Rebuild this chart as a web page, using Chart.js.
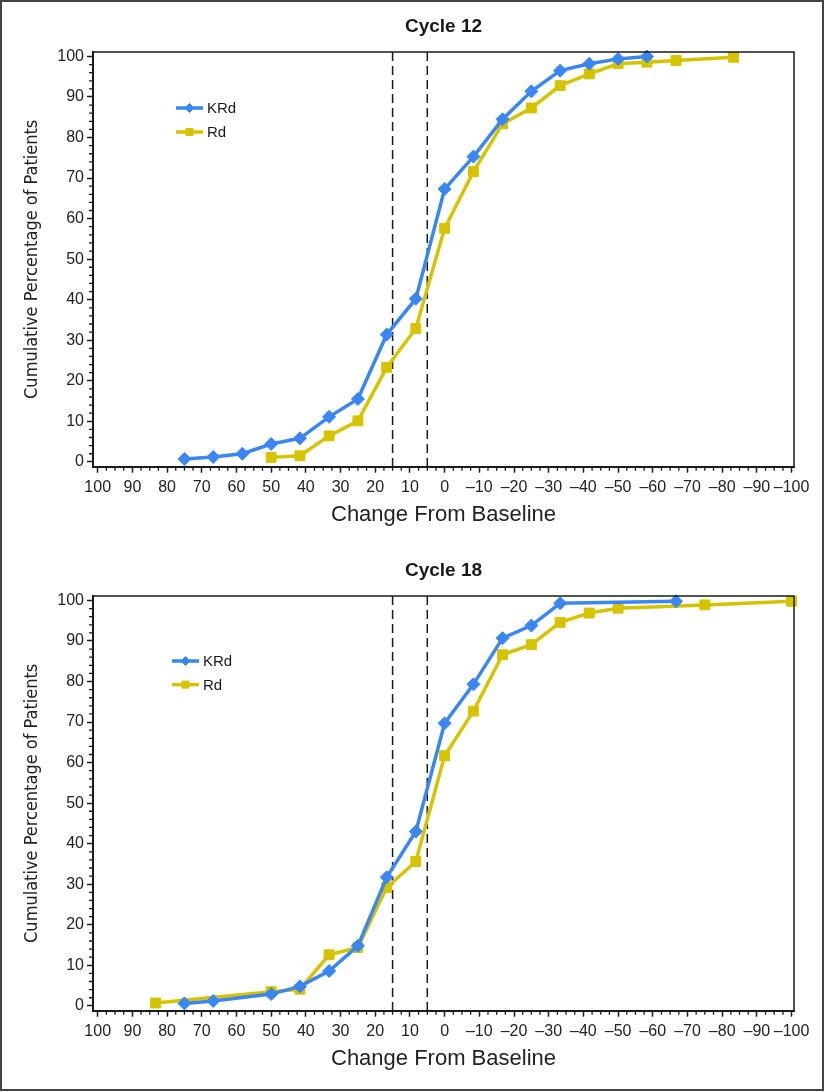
<!DOCTYPE html>
<html>
<head>
<meta charset="utf-8">
<script src="https://cdn.jsdelivr.net/npm/chart.js@4.4.1/dist/chart.umd.min.js"></script>
<style>
  html, body { margin: 0; padding: 0; background: #fff; }
  #figure { position: relative; width: 827px; height: 1092px; overflow: hidden; }
  #figure canvas { position: absolute; left: 0; }
  #frame { position: absolute; left: 0; top: 0; width: 824px; height: 1091px; box-sizing: border-box; border: 2px solid #444; pointer-events: none; }
</style>
</head>
<body>
<div id="figure">
  <canvas id="chart12" width="827" height="546" style="top:0"></canvas>
  <canvas id="chart18" width="827" height="546" style="top:544px"></canvas>
  <div id="frame"></div>
</div>
<script>
// ------------------------------------------------------------
// data
// ------------------------------------------------------------
const seriesNames = ['KRd', 'Rd'];
const refLines = [15, 5];

const cycle12KrdX = [75, 66.7, 58.3, 50, 41.7, 33.3, 25, 16.7, 8.3, 0, -8.3, -16.7, -25, -33.3, -41.7, -50, -58.3];
const cycle12KrdY = [0.7, 1.2, 2.0, 4.4, 5.8, 11.1, 15.5, 31.4, 40.2, 67.3, 75.3, 84.5, 91.4, 96.5, 98.2, 99.4, 100];
const cycle12RdX = [50, 41.7, 33.3, 25, 16.7, 8.3, 0, -8.3, -16.7, -25, -33.3, -41.7, -50, -58.3, -66.7, -83.3];
const cycle12RdY = [1.1, 1.5, 6.4, 10.1, 23.3, 32.9, 57.6, 71.6, 83.4, 87.3, 92.8, 95.7, 98.2, 98.6, 99.0, 99.8];

const cycle18KrdX = [75, 66.7, 50, 41.7, 33.3, 25, 16.7, 8.3, 0, -8.3, -16.7, -25, -33.3, -66.7];
const cycle18KrdY = [0.6, 1.2, 2.9, 4.8, 8.6, 14.8, 31.7, 43.0, 69.7, 79.3, 90.7, 93.8, 99.3, 99.8];
const cycle18RdX = [83.3, 50, 41.7, 33.3, 25, 16.7, 8.3, 0, -8.3, -16.7, -25, -33.3, -41.7, -50, -75, -100];
const cycle18RdY = [0.7, 3.5, 4.1, 12.6, 14.4, 29.2, 35.6, 61.7, 72.7, 86.6, 89.1, 94.6, 96.9, 98.1, 98.9, 99.8];

const xTitle = 'Change From Baseline';
const yTitle = 'Cumulative Percentage of Patients';

// ------------------------------------------------------------
// styling
// ------------------------------------------------------------
const BLUE = '#3a86f2';
const YELLOW = '#d6c300';
const INK = '#1a1a1a';
const SANS = "'Liberation Sans', Arial, sans-serif";
const CONDENSED = "'DejaVu Sans Condensed', 'Liberation Sans', sans-serif";

function isMajor(v) {
  return Math.abs(v % 10) < 1e-6 || Math.abs(Math.abs(v % 10) - 10) < 1e-6;
}

function fmtTick(v) {
  const r = Math.round(v);
  return r < 0 ? '\u2013' + Math.abs(r) : String(r);
}

function toPoints(xs, ys) {
  return xs.map((x, i) => ({ x, y: ys[i] }));
}

// dashed reference lines, top/right frame, minor ticks and the inset legend
const figureMarks = {
  id: 'figureMarks',
  beforeDatasetsDraw(chart) {
    const { ctx, chartArea: a, scales: { x } } = chart;
    ctx.save();
    ctx.strokeStyle = INK;
    ctx.lineWidth = 1.5;
    ctx.setLineDash([9, 5]);
    refLines.forEach(v => {
      const px = x.getPixelForValue(v);
      ctx.beginPath();
      ctx.moveTo(px, a.top);
      ctx.lineTo(px, a.bottom);
      ctx.stroke();
    });
    ctx.restore();
  },
  afterDraw(chart, args, opts) {
    const { ctx, chartArea: a, scales: { x, y } } = chart;
    ctx.save();

    // frame on top and right
    ctx.strokeStyle = INK;
    ctx.lineWidth = 1.5;
    ctx.beginPath();
    ctx.moveTo(a.left, a.top);
    ctx.lineTo(a.right, a.top);
    ctx.lineTo(a.right, a.bottom);
    ctx.stroke();

    // minor ticks
    ctx.lineWidth = 1.3;
    ctx.beginPath();
    x.ticks.forEach(t => {
      if (isMajor(t.value)) return;
      const px = x.getPixelForValue(t.value);
      ctx.moveTo(px, a.bottom);
      ctx.lineTo(px, a.bottom + 4);
    });
    y.ticks.forEach(t => {
      if (isMajor(t.value)) return;
      const py = y.getPixelForValue(t.value);
      ctx.moveTo(a.left - 4, py);
      ctx.lineTo(a.left, py);
    });
    ctx.stroke();

    // legend inside the plot
    ctx.font = '15px ' + SANS;
    ctx.textBaseline = 'middle';
    ctx.textAlign = 'left';
    chart.data.datasets.forEach((ds, i) => {
      const lx = a.left + opts.legendX;
      const ly = a.top + opts.legendY + i * opts.legendGap;
      ctx.strokeStyle = ds.borderColor;
      ctx.fillStyle = ds.borderColor;
      ctx.lineWidth = 3.5;
      ctx.beginPath();
      ctx.moveTo(lx, ly);
      ctx.lineTo(lx + 27, ly);
      ctx.stroke();
      ctx.lineWidth = 1;
      Chart.helpers.drawPoint(ctx, {
        pointStyle: ds.pointStyle,
        radius: ds.pointStyle === 'rect' ? 5 : 4.5,
        rotation: 0,
        borderWidth: 1
      }, lx + 13.5, ly);
      ctx.fillStyle = INK;
      ctx.fillText(ds.label, lx + 31, ly + 1);
    });
    ctx.restore();
  }
};

function tickGrid() {
  return {
    drawOnChartArea: false,
    tickLength: 6,
    tickWidth: 1.5,
    tickColor: c => (c.tick && isMajor(c.tick.value)) ? INK : 'rgba(0,0,0,0)'
  };
}

function buildChart(canvasId, title, krdX, krdY, rdX, rdY, legendPos) {
  const ctx = document.getElementById(canvasId).getContext('2d');
  return new Chart(ctx, {
    type: 'line',
    data: {
      datasets: [
        {
          label: seriesNames[0],
          data: toPoints(krdX, krdY),
          borderColor: BLUE,
          backgroundColor: BLUE,
          borderWidth: 3.5,
          pointStyle: 'rectRot',
          pointRadius: 6.5,
          pointBorderWidth: 1,
          pointBackgroundColor: BLUE,
          pointBorderColor: BLUE,
          tension: 0,
          clip: false
        },
        {
          label: seriesNames[1],
          data: toPoints(rdX, rdY),
          borderColor: YELLOW,
          backgroundColor: YELLOW,
          borderWidth: 3.5,
          pointStyle: 'rect',
          pointRadius: 7,
          pointBorderWidth: 1,
          pointBackgroundColor: YELLOW,
          pointBorderColor: YELLOW,
          tension: 0,
          clip: false
        }
      ]
    },
    options: {
      responsive: false,
      animation: false,
      events: [],
      layout: { padding: { top: 0, left: 0, right: 33, bottom: 0 } },
      plugins: {
        legend: { display: false },
        tooltip: { enabled: false },
        title: {
          display: true,
          text: title,
          fullSize: false,
          color: INK,
          font: { family: SANS, size: 19, weight: 'bold' },
          padding: { top: 15, bottom: 14.2 }
        },
        figureMarks: legendPos
      },
      scales: {
        x: {
          type: 'linear',
          reverse: true,
          min: -100.7,
          max: 101.35,
          afterFit: s => { s.height = 79.3; },
          border: { display: true, color: INK, width: 2 },
          grid: tickGrid(),
          ticks: {
            stepSize: 2.5,
            includeBounds: false,
            autoSkip: false,
            maxRotation: 0,
            padding: 5,
            color: '#222',
            font: { family: SANS, size: 16 },
            callback: v => isMajor(v) ? fmtTick(v) : ''
          },
          title: {
            display: true,
            text: xTitle,
            color: '#222',
            font: { family: SANS, size: 22 },
            padding: { top: 0, bottom: 18 }
          }
        },
        y: {
          type: 'linear',
          min: -1.2,
          max: 101.1,
          afterFit: s => { s.width = 93; },
          border: { display: true, color: INK, width: 2 },
          grid: tickGrid(),
          ticks: {
            stepSize: 2,
            includeBounds: false,
            autoSkip: false,
            padding: 3,
            color: '#222',
            font: { family: SANS, size: 16 },
            callback: v => isMajor(v) ? fmtTick(v) : ''
          },
          title: {
            display: true,
            text: yTitle,
            color: '#222',
            font: { family: CONDENSED, size: 18 },
            padding: { top: 22, bottom: 0 }
          }
        }
      }
    },
    plugins: [figureMarks]
  });
}

buildChart('chart12', 'Cycle 12', cycle12KrdX, cycle12KrdY, cycle12RdX, cycle12RdY,
  { legendX: 83, legendY: 56, legendGap: 24 });
buildChart('chart18', 'Cycle 18', cycle18KrdX, cycle18KrdY, cycle18RdX, cycle18RdY,
  { legendX: 79, legendY: 65, legendGap: 23.6 });
</script>
</body>
</html>
